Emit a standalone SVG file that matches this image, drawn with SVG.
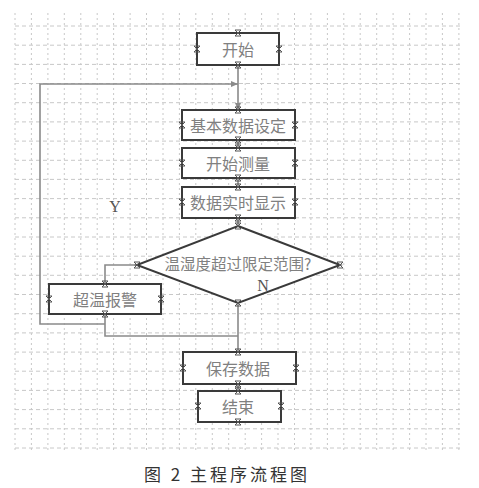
<svg xmlns="http://www.w3.org/2000/svg" xmlns:xlink="http://www.w3.org/1999/xlink" width="479" height="488" viewBox="0 0 479 488">
<style>
.gh{fill:none;stroke:#c8c8c8;stroke-width:1;stroke-dasharray:4 3}
.gv{fill:none;stroke:#c8c8c8;stroke-width:1;stroke-dasharray:2 3}
.box{fill:#fff;stroke:#3a3a3a;stroke-width:2}
.lbl{font-family:"Noto Sans CJK SC","Noto Sans CJK JP",sans-serif;font-size:16px;fill:#808080;text-anchor:middle;dominant-baseline:central}
.lat{font-family:"Liberation Serif",serif;font-size:16px;fill:#555;text-anchor:middle;dominant-baseline:central}
.con{fill:none;stroke:#8a8a8a;stroke-width:1.6}
.xm{fill:none;stroke:#555;stroke-width:1}
.cap{font-family:"Noto Sans CJK SC",sans-serif;font-size:17px;fill:#333;text-anchor:middle;dominant-baseline:central;letter-spacing:3px}
</style>
<defs>
<marker id="arr" markerWidth="8" markerHeight="8" refX="7" refY="4" orient="auto" markerUnits="userSpaceOnUse">
<path d="M0,1 L7,4 L0,7 z" fill="#8a8a8a"/>
</marker>
<g id="x"><path class="xm" d="M-3,-3 L3,3 M-3,3 L3,-3 M-3,-3 H3 M-3,3 H3"/></g>
</defs>
<rect width="479" height="488" fill="#fff"/>
<g id="grid">
<path class="gh" d="M15 26H462M15 45.2H462M15 64.4H462M15 83.5H462M15 102.7H462M15 121.9H462M15 141.1H462M15 160.3H462M15 179.4H462M15 198.6H462M15 217.8H462M15 237H462M15 256.2H462M15 275.3H462M15 294.5H462M15 313.7H462M15 332.9H462M15 352.1H462M15 371.2H462M15 390.4H462M15 409.6H462M15 428.8H462M15 448H462"/>
<path class="gv" d="M15 13V450M31.4 13V450M47.9 13V450M64.3 13V450M80.8 13V450M97.2 13V450M113.6 13V450M130.1 13V450M146.5 13V450M163 13V450M179.4 13V450M195.8 13V450M212.3 13V450M228.7 13V450M245.2 13V450M261.6 13V450M278 13V450M294.5 13V450M310.9 13V450M327.4 13V450M343.8 13V450M360.2 13V450M376.7 13V450M393.1 13V450M409.6 13V450M426 13V450M442.4 13V450M458.9 13V450"/>
</g>
<g id="connectors">
<path class="con" d="M238 65V110" marker-end="url(#arr)"/>
<path class="con" d="M238 140V148"/>
<path class="con" d="M238 178V187"/>
<path class="con" d="M238 218V226"/>
<path class="con" d="M137 265H105V284"/>
<path class="con" d="M238 303V352"/>
<path class="con" d="M105 314V336H238"/>
<path class="con" d="M105 324H40V84H238" marker-end="url(#arr)"/>
<path class="con" d="M238 384V391"/>
</g>
<g id="start">
<rect class="box" x="197" y="33" width="82" height="32"/>
<text class="lbl" x="238" y="49">开始</text>
<use xlink:href="#x" x="238" y="33"/><use xlink:href="#x" x="238" y="65"/><use xlink:href="#x" x="197" y="49"/><use xlink:href="#x" x="279" y="49"/>
</g>
<g id="setup">
<rect class="box" x="182" y="110" width="113" height="30"/>
<text class="lbl" x="238" y="125">基本数据设定</text>
<use xlink:href="#x" x="238" y="110"/><use xlink:href="#x" x="238" y="140"/><use xlink:href="#x" x="182" y="125"/><use xlink:href="#x" x="295" y="125"/>
</g>
<g id="measure">
<rect class="box" x="182" y="148" width="113" height="30"/>
<text class="lbl" x="238" y="163">开始测量</text>
<use xlink:href="#x" x="238" y="148"/><use xlink:href="#x" x="238" y="178"/><use xlink:href="#x" x="182" y="163"/><use xlink:href="#x" x="295" y="163"/>
</g>
<g id="display">
<rect class="box" x="182" y="187" width="113" height="31"/>
<text class="lbl" x="238" y="202">数据实时显示</text>
<use xlink:href="#x" x="238" y="187"/><use xlink:href="#x" x="238" y="218"/><use xlink:href="#x" x="182" y="202"/><use xlink:href="#x" x="295" y="202"/>
</g>
<g id="decision">
<polygon class="box" points="238,226 340,265 238,303 137,265"/>
<text class="lbl" x="238" y="263" style="font-size:15.5px">温湿度超过限定范围?</text>
<use xlink:href="#x" x="238" y="226"/><use xlink:href="#x" x="238" y="303"/><use xlink:href="#x" x="137" y="265"/><use xlink:href="#x" x="340" y="265"/>
</g>
<g id="alarm">
<rect class="box" x="49" y="284" width="112" height="30"/>
<text class="lbl" x="105" y="299">超温报警</text>
<use xlink:href="#x" x="105" y="284"/><use xlink:href="#x" x="105" y="314"/><use xlink:href="#x" x="49" y="299"/><use xlink:href="#x" x="161" y="299"/>
</g>
<g id="save">
<rect class="box" x="183" y="352" width="113" height="32"/>
<text class="lbl" x="238" y="368">保存数据</text>
<use xlink:href="#x" x="238" y="352"/><use xlink:href="#x" x="238" y="384"/><use xlink:href="#x" x="183" y="368"/><use xlink:href="#x" x="296" y="368"/>
</g>
<g id="end">
<rect class="box" x="198" y="391" width="83" height="31"/>
<text class="lbl" x="238" y="406">结束</text>
<use xlink:href="#x" x="238" y="391"/><use xlink:href="#x" x="238" y="422"/><use xlink:href="#x" x="198" y="406"/><use xlink:href="#x" x="281" y="406"/>
</g>
<g id="labels">
<text class="lat" x="115" y="206">Y</text>
<text class="lat" x="263" y="285">N</text>
</g>
<text class="cap" x="227" y="473" xml:space="preserve">图 2 主程序流程图</text>
</svg>
